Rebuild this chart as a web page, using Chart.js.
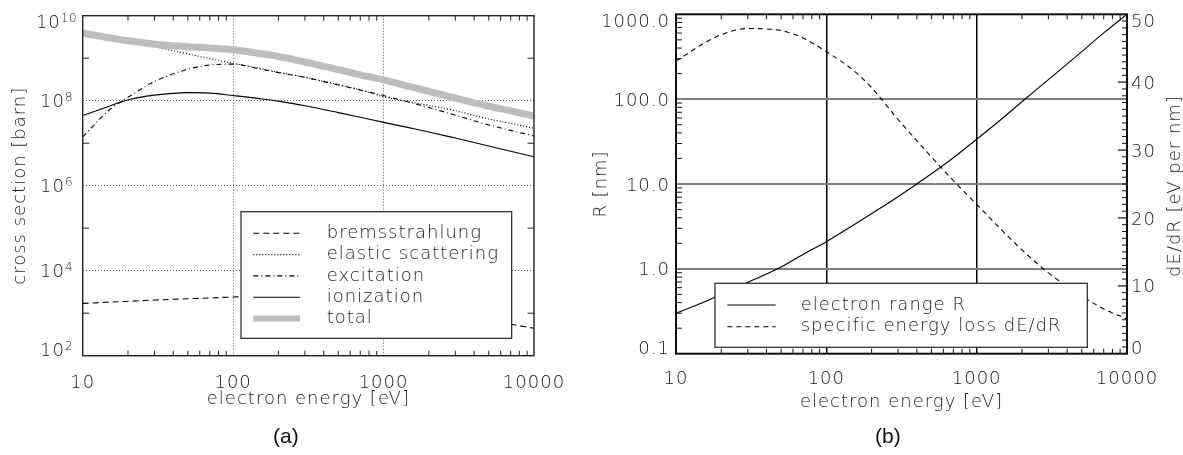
<!DOCTYPE html>
<html><head><meta charset="utf-8">
<script src="https://cdn.jsdelivr.net/npm/chart.js@4.4.1/dist/chart.umd.min.js"></script>
<style>
html,body{margin:0;padding:0;background:#fff;}
#wrap{position:relative;width:1183px;height:455px;overflow:hidden;background:#fff;}
#ca{position:absolute;left:0;top:0;}
#cb{position:absolute;left:590px;top:0;}
.cap{position:absolute;top:424px;font-family:"Liberation Sans",Arial,sans-serif;font-size:21px;color:#111;line-height:24px;}
</style></head><body>
<div id="wrap">
<canvas id="ca" width="590" height="455"></canvas>
<canvas id="cb" width="593" height="455"></canvas>
<div class="cap" style="left:273px">(a)</div>
<div class="cap" style="left:875px">(b)</div>
</div>
<script>
// ---------- data ----------
const energy = [10,15,20,30,50,70,100,150,200,300,500,700,1000,1500,2000,3000,5000,7000,10000];
// panel (a): cross sections [barn]
const bremsstrahlung = [1700,1820,1905,2040,2190,2290,2400,2455,2510,2455,2240,2040,1780,1445,1230,955,676,550,442];
const elasticScattering = [3.63e9,2.88e9,2.45e9,1.86e9,1.26e9,9.77e8,7.59e8,5.75e8,4.68e8,3.55e8,2.40e8,1.82e8,1.24e8,9.33e7,7.76e7,5.82e7,3.72e7,2.92e7,2.24e7];
const excitation = [1.41e7,6.03e7,1.20e8,2.82e8,5.50e8,6.92e8,7.24e8,5.62e8,4.57e8,3.55e8,2.34e8,1.78e8,1.32e8,9.12e7,6.92e7,4.57e7,2.69e7,2.0e7,1.48e7];
const ionization = [4.47e7,7.41e7,1.05e8,1.35e8,1.55e8,1.51e8,1.32e8,1.12e8,9.77e7,7.59e7,5.25e7,4.07e7,3.09e7,2.29e7,1.84e7,1.32e7,8.61e6,6.46e6,4.79e6];
const totalCS = [3.89e9,3.02e9,2.57e9,2.14e9,1.86e9,1.74e9,1.58e9,1.29e9,1.10e9,8.13e8,5.37e8,4.07e8,3.09e8,2.14e8,1.66e8,1.15e8,7.41e7,5.75e7,4.37e7];
// panel (b)
const rangeR = [0.302,0.398,0.501,0.692,1.05,1.48,2.09,3.24,4.47,7.08,13.2,20.4,33.7,60.3,93.3,170,363,603,1000];
const dEdR = [43.1,45.6,47.0,47.9,47.6,46.5,44.5,41.8,39.2,34.5,29.0,25.5,22.0,18.0,15.3,11.9,8.5,6.6,5.1];
// ticks
const xTickValues = [10,100,1000,10000];
const xTickLabels = ['10','100','1000','10000'];
const csTickValues = [1e2,1e4,1e6,1e8,1e10];
const csTickBase = '10';
const csTickExponents = ['2','4','6','8','10'];
const rTickValues = [0.1,1,10,100,1000];
const rTickLabels = ['0.1','1.0','10.0','100.0','1000.0'];
const lossTickValues = [0,10,20,30,40,50];
const lossTickLabels = ['0','10','20','30','40','50'];

// ---------- helpers ----------
const FAM = '"DejaVu Sans", sans-serif';
const TXT = '#1a1a1a';
const tickFont = {family: FAM, size: 18, weight: 200};
function pts(ys){ return energy.map((e,i)=>({x:e, y:ys[i]})); }
function logMinors(min, max){
  const out = [];
  for (let e = Math.floor(Math.log10(min)); Math.pow(10,e) < max; e++){
    for (let k = 2; k <= 9; k++){ const v = k*Math.pow(10,e); if (v > min && v < max) out.push(v); }
  }
  return out;
}
function setTicks(values){ return s => { s.ticks = values.map(v => ({value: v})); }; }

const idlFrame = {
  id: 'idlFrame',
  beforeDraw(chart){ chart.ctx.letterSpacing = '1px'; },
  afterDatasetsDraw(chart, args, o){
    const ctx = chart.ctx, a = chart.chartArea;
    ctx.save();
    ctx.strokeStyle = o.color;
    for (const t of o.marks){
      const sc = chart.scales[t.scale];
      ctx.lineWidth = t.width;
      ctx.beginPath();
      for (const v of t.values){
        const p = sc.getPixelForValue(v);
        if (sc.isHorizontal()){
          if (t.sides.indexOf('bottom') >= 0){ ctx.moveTo(p, a.bottom); ctx.lineTo(p, a.bottom - t.len); }
          if (t.sides.indexOf('top') >= 0){ ctx.moveTo(p, a.top); ctx.lineTo(p, a.top + t.len); }
        } else {
          if (t.sides.indexOf('left') >= 0){ ctx.moveTo(a.left, p); ctx.lineTo(a.left + t.len, p); }
          if (t.sides.indexOf('right') >= 0){ ctx.moveTo(a.right, p); ctx.lineTo(a.right - t.len, p); }
        }
      }
      ctx.stroke();
    }
    ctx.lineWidth = o.frameWidth;
    ctx.strokeRect(a.left, a.top, a.right - a.left, a.bottom - a.top);
    ctx.restore();
  },
  afterDraw(chart, args, o){
    const ctx = chart.ctx, a = chart.chartArea;
    // y tick labels, kept inside the axis extent (IDL style)
    for (const Y of (o.yLabels || [])){
      const sc = chart.scales[Y.scale];
      ctx.save();
      ctx.fillStyle = TXT;
      ctx.textBaseline = 'alphabetic';
      Y.values.forEach((v, i) => {
        const p = sc.getPixelForValue(v);
        const yc = Math.min(Math.max(p, a.top + Y.margin), a.bottom - Y.margin);
        const base = yc + 0.365*18;
        const txt = Y.texts[i];
        const exp = Y.exps ? Y.exps[i] : '';
        ctx.letterSpacing = '1px';
        ctx.font = '200 18px ' + FAM;
        const wb = ctx.measureText(txt).width;
        ctx.font = '200 12px ' + FAM;
        ctx.letterSpacing = '0.5px';
        const we = exp ? ctx.measureText(exp).width : 0;
        let x0;
        if (Y.align === 'center') x0 = Y.x - (wb + we)/2;
        else if (Y.align === 'right') x0 = Y.x - wb - we;
        else x0 = Y.x;
        ctx.textAlign = 'left';
        ctx.letterSpacing = '1px';
        ctx.font = '200 18px ' + FAM;
        ctx.fillText(txt, x0, base);
        if (exp){
          ctx.letterSpacing = '0.5px';
          ctx.font = '200 12px ' + FAM;
          ctx.fillText(exp, x0 + wb, base - 6.5);
        }
      });
      ctx.restore();
    }
    const L = o.legend;
    if (L){
      ctx.save();
      ctx.letterSpacing = '1px';
      ctx.fillStyle = '#fff';
      ctx.fillRect(L.x, L.y, L.w, L.h);
      ctx.strokeStyle = '#222'; ctx.lineWidth = 1.2;
      ctx.strokeRect(L.x, L.y, L.w, L.h);
      chart.data.datasets.forEach((ds, i) => {
        const y = L.rowY + i*L.rowH;
        ctx.save();
        ctx.strokeStyle = ds.borderColor;
        ctx.lineWidth = Math.min(ds.borderWidth, 6);
        ctx.setLineDash(ds.borderDash || []);
        ctx.beginPath(); ctx.moveTo(L.lineX0, y); ctx.lineTo(L.lineX1, y); ctx.stroke();
        ctx.restore();
        ctx.fillStyle = TXT;
        ctx.font = '200 18px ' + FAM;
        ctx.textAlign = 'left'; ctx.textBaseline = 'middle';
        ctx.fillText(ds.label, L.textX, y);
      });
      ctx.restore();
    }
    const S = o.sideTitle;
    if (S){
      ctx.save();
      ctx.letterSpacing = '1px';
      ctx.translate(S.x, S.y);
      ctx.rotate(-Math.PI/2);
      ctx.fillStyle = TXT;
      ctx.font = '200 18px ' + FAM;
      ctx.textAlign = 'center'; ctx.textBaseline = 'middle';
      ctx.fillText(S.text, 0, 0);
      ctx.restore();
    }
  }
};
Chart.register(idlFrame);

const lineBase = {pointRadius: 0, fill: false, cubicInterpolationMode: 'monotone', borderColor: '#000', borderWidth: 1.1};

// ---------- panel (a) ----------
new Chart(document.getElementById('ca'), {
  type: 'line',
  data: {
    datasets: [
      Object.assign({}, lineBase, {label: 'bremsstrahlung', data: pts(bremsstrahlung), borderDash: [6,4], order: 1}),
      Object.assign({}, lineBase, {label: 'elastic scattering', data: pts(elasticScattering), borderDash: [1,2], order: 1}),
      Object.assign({}, lineBase, {label: 'excitation', data: pts(excitation), borderDash: [5,3,1,3], order: 1}),
      Object.assign({}, lineBase, {label: 'ionization', data: pts(ionization), order: 1}),
      Object.assign({}, lineBase, {label: 'total', data: pts(totalCS), borderColor: '#bdbdbd', borderWidth: 7, order: 0})
    ]
  },
  options: {
    responsive: false, animation: false,
    layout: {padding: {left: 0, top: 15.7, right: 56, bottom: 44.8}},
    plugins: {
      legend: {display: false}, tooltip: {enabled: false},
      idlFrame: {
        color: '#222', frameWidth: 1.4,
        marks: [
          {scale: 'x', values: logMinors(10, 10000), len: 5, width: 1, sides: ['top','bottom']},
          {scale: 'y', values: [1e3,1e5,1e7,1e9], len: 6.5, width: 1, sides: ['left','right']}
        ],
        yLabels: [
          {scale: 'y', values: csTickValues, texts: csTickValues.map(() => csTickBase), exps: csTickExponents, align: 'center', x: 56.5, margin: 6}
        ],
        legend: {x: 241, y: 211.7, w: 270.7, h: 126.6, rowY: 233.3, rowH: 21.3, lineX0: 253.3, lineX1: 300, textX: 326.7}
      }
    },
    scales: {
      x: {
        type: 'logarithmic', min: 10, max: 10000,
        afterBuildTicks: setTicks(xTickValues),
        afterFit: s => { s.height = 54.5; },
        ticks: {callback: (v, i) => xTickLabels[i], font: tickFont, color: TXT, padding: 16.5, autoSkip: false, maxRotation: 0},
        grid: {drawTicks: false, lineWidth: 1, color: c => (c.tick && (c.tick.value === 100 || c.tick.value === 1000)) ? '#555' : 'rgba(0,0,0,0)'},
        border: {display: false, dash: [1,2]},
        title: {display: true, text: 'electron energy [eV]', font: tickFont, color: TXT, padding: {top: 0, bottom: 0}}
      },
      y: {
        type: 'logarithmic', min: 1e2, max: 1e10,
        afterBuildTicks: setTicks(csTickValues),
        afterFit: s => { s.width = 82.7; },
        ticks: {display: false},
        grid: {drawTicks: false, lineWidth: 1, color: c => (c.tick && (c.tick.value === 1e4 || c.tick.value === 1e6 || c.tick.value === 1e8)) ? '#555' : 'rgba(0,0,0,0)'},
        border: {display: false, dash: [1,2]},
        title: {display: true, text: 'cross section [barn]', font: tickFont, color: TXT, padding: {top: 10, bottom: 0}}
      }
    }
  }
});

// ---------- panel (b) ----------
new Chart(document.getElementById('cb'), {
  type: 'line',
  data: {
    datasets: [
      Object.assign({}, lineBase, {label: 'electron range R', data: pts(rangeR), yAxisID: 'y'}),
      Object.assign({}, lineBase, {label: 'specific energy loss dE/dR', data: pts(dEdR), yAxisID: 'y2', borderDash: [5,4]})
    ]
  },
  options: {
    responsive: false, animation: false,
    layout: {padding: {left: 0, top: 14.3, right: 0, bottom: 42.1}},
    plugins: {
      legend: {display: false}, tooltip: {enabled: false},
      idlFrame: {
        color: '#111', frameWidth: 2,
        marks: [
          {scale: 'x', values: logMinors(10, 10000), len: 5, width: 1, sides: ['top','bottom']},
          {scale: 'y', values: logMinors(0.1, 1000), len: 6, width: 1, sides: ['left']},
          {scale: 'y2', values: [1,2,3,4,5,6,7,8,9,11,12,13,14,15,16,17,18,19,21,22,23,24,25,26,27,28,29,31,32,33,34,35,36,37,38,39,41,42,43,44,45,46,47,48,49], len: 5, width: 1, sides: ['right']},
          {scale: 'y2', values: [10,20,30,40], len: 9, width: 1.2, sides: ['right']}
        ],
        yLabels: [
          {scale: 'y', values: rTickValues, texts: rTickLabels, align: 'right', x: 80, margin: 6.5},
          {scale: 'y2', values: lossTickValues, texts: lossTickLabels, align: 'left', x: 541, margin: 6.5}
        ],
        legend: {x: 125, y: 283.3, w: 372.3, h: 64, rowY: 305, rowH: 21.7, lineX0: 137.3, lineX1: 185.7, textX: 210.7},
        sideTitle: {x: 585, y: 186, text: 'dE/dR [eV per nm]'}
      }
    },
    scales: {
      x: {
        type: 'logarithmic', min: 10, max: 10000,
        afterBuildTicks: setTicks(xTickValues),
        afterFit: s => { s.height = 59.2; },
        ticks: {callback: (v, i) => xTickLabels[i], font: tickFont, color: TXT, padding: 15, autoSkip: false, maxRotation: 0},
        grid: {drawTicks: false, lineWidth: 1.5, color: c => (c.tick && (c.tick.value === 100 || c.tick.value === 1000)) ? '#000' : 'rgba(0,0,0,0)'},
        border: {display: false},
        title: {display: true, text: 'electron energy [eV]', font: tickFont, color: TXT, padding: {top: 0, bottom: 0}}
      },
      y: {
        type: 'logarithmic', position: 'left', min: 0.1, max: 1000,
        afterBuildTicks: setTicks(rTickValues),
        afterFit: s => { s.width = 86; },
        ticks: {display: false},
        grid: {drawTicks: false, lineWidth: 2, color: c => (c.tick && (c.tick.value === 1 || c.tick.value === 10 || c.tick.value === 100)) ? '#808080' : 'rgba(0,0,0,0)'},
        border: {display: false},
        title: {display: true, text: 'R [nm]', font: tickFont, color: TXT, padding: {top: 1, bottom: 0}}
      },
      y2: {
        type: 'linear', position: 'right', min: 0, max: 50,
        afterBuildTicks: setTicks(lossTickValues),
        afterFit: s => { s.width = 56; },
        ticks: {display: false},
        grid: {display: false, drawTicks: false},
        border: {display: false}
      }
    }
  }
});
</script>
</body></html>
